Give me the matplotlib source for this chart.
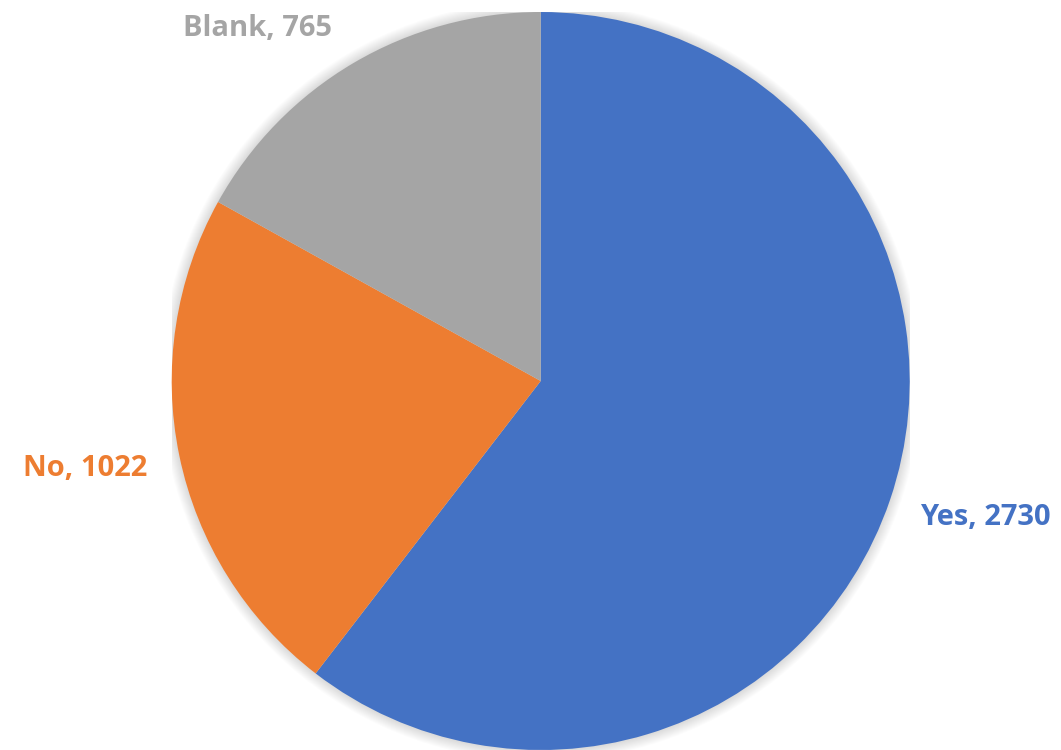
import numpy as np
import matplotlib.pyplot as plt
from matplotlib.patches import Circle

labels = ["Yes", "No", "Blank"]
counts = [2730, 1022, 765]
colors = ["#4472C4", "#ED7D31", "#A5A5A5"]

# where each data label sits (data units, radius 1 = pie edge)
label_xy = [(1.206, -0.389), (-1.234, -0.257), (-0.768, 0.935)]

fig = plt.figure(figsize=(10.61, 7.5), dpi=100)
ax = fig.add_axes([171.7 / 1061, (750 - 381 - 369) / 750, 738 / 1061, 738 / 750])
ax.set_xlim(-1, 1)
ax.set_ylim(-1, 1)
ax.axis("off")

# soft shadow round the pie
for i in range(12):
    r = 1.0 + 0.0025 * (12 - i)
    ax.add_patch(Circle((0, 0), r, color="black", alpha=0.012, lw=0, zorder=0))

wedges, _ = ax.pie(counts, colors=colors, startangle=90, counterclock=False,
                   radius=1, wedgeprops=dict(linewidth=0), frame=False)
for w in wedges:
    w.set_zorder(2)
ax.set_xlim(-1, 1)
ax.set_ylim(-1, 1)

for (x, y), name, n, c in zip(label_xy, labels, counts, colors):
    ax.text(x, y, f"{name}, {n}", color=c, fontsize=21, fontweight="bold",
            family="Open Sans", ha="center", va="baseline", clip_on=False)

fig.savefig("out.png", dpi=100)
